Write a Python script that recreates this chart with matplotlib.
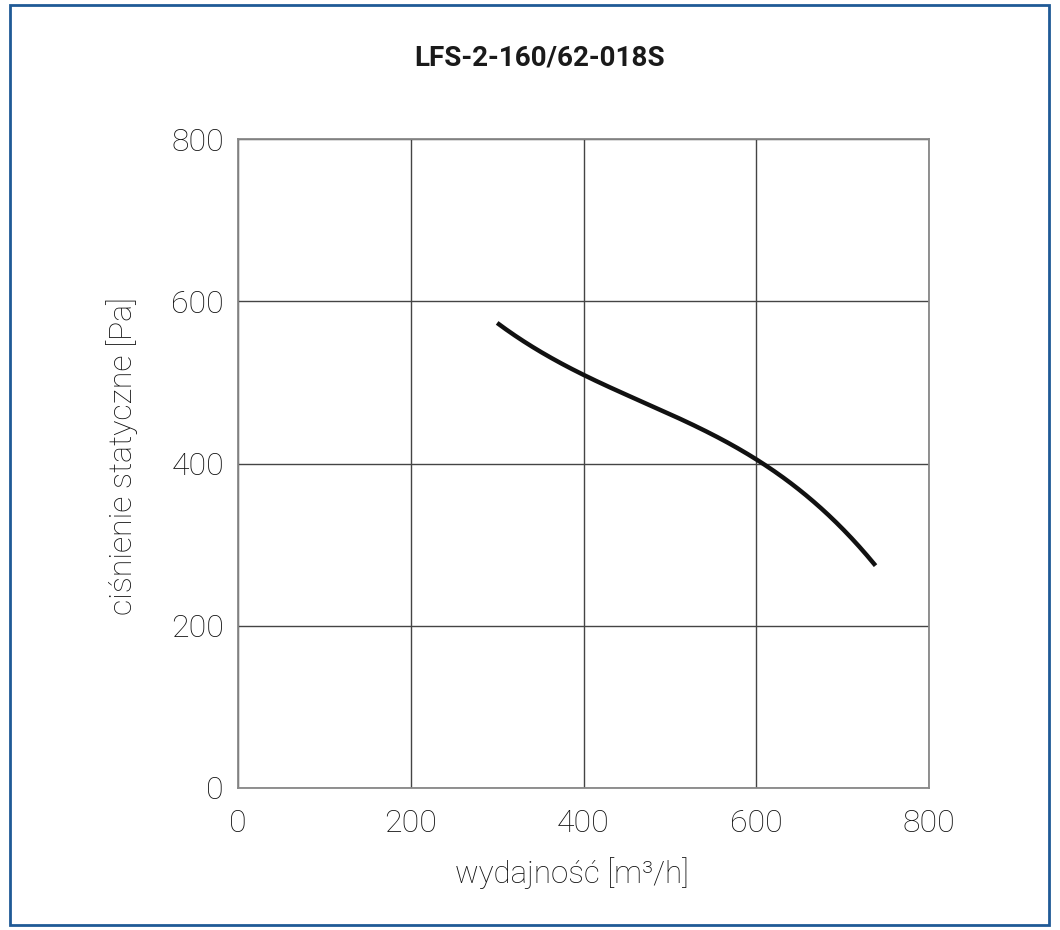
import matplotlib
matplotlib.use("Agg")
import matplotlib.pyplot as plt
from matplotlib.patches import Rectangle
import numpy as np

flow = [300, 350, 400, 450, 500, 550, 600, 650, 700, 738]          # m3/h
pressure = [575, 536, 507, 485, 464, 437, 404, 363, 322, 274]        # Pa
ticks = [0, 200, 400, 600, 800]

plt.rcParams['font.family'] = ['Roboto', 'DejaVu Sans']

fig = plt.figure(figsize=(10.6, 9.3), dpi=100)
ax = fig.add_axes([0.2245, 0.1527, 0.652, 0.6978])

# smooth the curve through the read points
xs = np.linspace(flow[0], flow[-1], 300)
cf = np.polyfit(flow, pressure, 3)
ax.plot(xs, np.polyval(cf, xs), color='#111111', lw=3.2, solid_capstyle='butt')

ax.set_xlim(0, 800)
ax.set_ylim(0, 800)
ax.set_xticks(ticks)
ax.set_yticks(ticks)
ax.grid(True, color='#444444', lw=1.0)
for s in ax.spines.values():
    s.set_color('#888888')
    s.set_linewidth(1.3)
ax.tick_params(length=0, labelsize=23, labelcolor='#111111')
ax.tick_params(axis='x', pad=15)
ax.tick_params(axis='y', pad=10)
for lab in ax.get_xticklabels() + ax.get_yticklabels():
    lab.set_fontweight('light')

ax.set_xlabel('wydajność [m³/h]', fontsize=22.5, fontweight='light', color='#111111')
ax.set_ylabel('ciśnienie statyczne [Pa]', fontsize=23, fontweight='light', color='#111111')
ax.xaxis.set_label_coords(0.483, -0.106)
ax.yaxis.set_label_coords(-0.144, 0.512)

fig.text(0.509, 0.9376, 'LFS-2-160/62-018S', ha='center', va='center',
         fontsize=20, fontweight='bold', color='#1a1a1a')

fig.patches.append(Rectangle((10/1060, 5/930), 1039/1060, 920/930, transform=fig.transFigure,
                             fill=False, edgecolor='#1f5a96', lw=2))

fig.savefig('out.png', dpi=100)
